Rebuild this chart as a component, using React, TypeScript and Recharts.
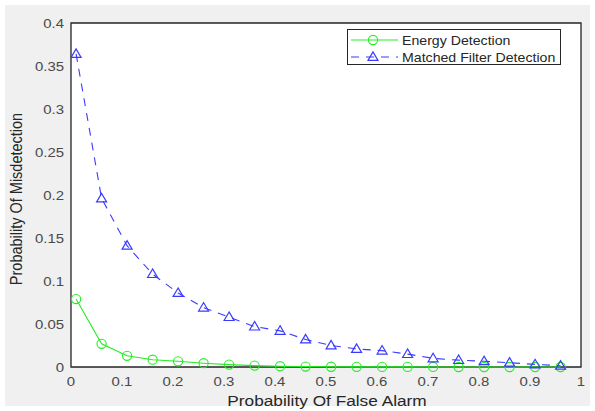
import React from "react";
import {
  LineChart,
  Line,
  XAxis,
  YAxis,
  CartesianGrid,
  ReferenceArea,
} from "recharts";

// Probability of false alarm (x) sampled at 20 points
const falseAlarm = [
  0.01, 0.06, 0.11, 0.16, 0.21, 0.26, 0.31, 0.36, 0.41, 0.46,
  0.51, 0.56, 0.61, 0.66, 0.71, 0.76, 0.81, 0.86, 0.91, 0.96,
];

// Probability of misdetection for each detector
const energyDetection = [
  0.079, 0.027, 0.013, 0.0085, 0.0066, 0.0044, 0.0028, 0.0016, 0.0009, 0.0005,
  0.0003, 0.0002, 0.0001, 0.0001, 0.00005, 0, 0, 0, 0, 0,
];
const matchedFilter = [
  0.364, 0.196, 0.141, 0.108, 0.086, 0.069, 0.058, 0.047, 0.042, 0.032,
  0.025, 0.021, 0.019, 0.015, 0.01, 0.008, 0.0066, 0.005, 0.003, 0.0015,
];

const xTicks = [0, 0.1, 0.2, 0.3, 0.4, 0.5, 0.6, 0.7, 0.8, 0.9, 1];
const yTicks = [0, 0.05, 0.1, 0.15, 0.2, 0.25, 0.3, 0.35, 0.4];

const seriesNames = ["Energy Detection", "Matched Filter Detection"];
const xTitle = "Probability Of False Alarm";
const yTitle = "Probability Of Misdetection";

const data = falseAlarm.map((pfa, i) => ({
  pfa,
  energy: energyDetection[i],
  matched: matchedFilter[i],
}));

const GREEN = "#22ee22";
const BLUE = "#3a3aff";
const FONT = "'Liberation Sans', Arial, sans-serif";
const TICK_COLOR = "#4a4a4a";
const TEXT_COLOR = "#262626";
// the figure's text is set slightly wide horizontally
const STRETCH = 1.15;

const fmt = (v: number) => String(Math.round(v * 100) / 100);

const CircleDot = (props: any) => {
  const { cx, cy } = props;
  if (cx == null || cy == null) return null;
  return <circle cx={cx} cy={cy} r={4.6} fill="none" stroke={GREEN} strokeWidth={1.1} />;
};

const TriangleDot = (props: any) => {
  const { cx, cy } = props;
  if (cx == null || cy == null) return null;
  const h = 8.5;
  const w = 10;
  const pts = `${cx},${cy - h * 0.6} ${cx - w / 2},${cy + h * 0.4} ${cx + w / 2},${cy + h * 0.4}`;
  return <polygon points={pts} fill="none" stroke={BLUE} strokeWidth={1.2} />;
};

const XTick = (props: any) => {
  const { x, y, payload } = props;
  return (
    <text
      transform={`translate(${x},${y}) scale(${STRETCH},1)`}
      textAnchor="middle"
      dy="0.71em"
      fontFamily={FONT}
      fontSize={13}
      fill={TICK_COLOR}
    >
      {fmt(payload.value)}
    </text>
  );
};

const YTick = (props: any) => {
  const { x, y, payload } = props;
  return (
    <text
      transform={`translate(${x},${y}) scale(${STRETCH},1)`}
      textAnchor="end"
      dy="0.355em"
      fontFamily={FONT}
      fontSize={13}
      fill={TICK_COLOR}
    >
      {fmt(payload.value)}
    </text>
  );
};

const LegendBox = () => (
  <svg width={215} height={37} style={{ display: "block" }}>
    <rect x={0.5} y={0.5} width={213} height={35} fill="#ffffff" stroke={TEXT_COLOR} strokeWidth={1} />
    <line x1={4} y1={11} x2={51} y2={11} stroke={GREEN} strokeWidth={1.1} />
    <circle cx={26} cy={11} r={4.6} fill="none" stroke={GREEN} strokeWidth={1.1} />
    <text
      transform={`translate(55,15.5) scale(${STRETCH},1)`}
      fontFamily={FONT}
      fontSize={12.3}
      fill={TEXT_COLOR}
    >
      {seriesNames[0]}
    </text>
    <line x1={4} y1={28} x2={51} y2={28} stroke={BLUE} strokeWidth={1.1} strokeDasharray="8 7" />
    <polygon points="26,22.9 21,31.4 31,31.4" fill="none" stroke={BLUE} strokeWidth={1.2} />
    <text
      transform={`translate(55,32.5) scale(${STRETCH},1)`}
      fontFamily={FONT}
      fontSize={12.3}
      fill={TEXT_COLOR}
    >
      {seriesNames[1]}
    </text>
  </svg>
);

export default function App() {
  return (
    <div
      style={{
        position: "absolute",
        left: 0,
        top: 0,
        width: 595,
        height: 411,
        background: "#ffffff",
      }}
    >
      <div
        style={{
          position: "absolute",
          left: 5,
          top: 5,
          width: 585,
          height: 401,
          background: "#f0f0f0",
        }}
      />
      <div style={{ position: "absolute", left: 0, top: 0 }}>
        <LineChart
          width={595}
          height={411}
          data={data}
          margin={{ top: 23, right: 14, left: 11, bottom: 0 }}
        >
          <ReferenceArea
            x1={0}
            x2={1}
            y1={0}
            y2={0.4}
            fill="#ffffff"
            fillOpacity={1}
            stroke="none"
            ifOverflow="visible"
          />
          <CartesianGrid stroke="#dedede" strokeWidth={1} />
          <XAxis
            dataKey="pfa"
            type="number"
            domain={[0, 1]}
            ticks={xTicks}
            height={44}
            tickLine={false}
            tickSize={0}
            tickMargin={10}
            axisLine={false}
            tick={<XTick />}
            label={() => (
              <text
                transform={`translate(327,406) scale(${STRETCH},1)`}
                textAnchor="middle"
                fontFamily={FONT}
                fontSize={15}
                fill={TEXT_COLOR}
              >
                {xTitle}
              </text>
            )}
          />
          <YAxis
            type="number"
            domain={[0, 0.4]}
            ticks={yTicks}
            width={60}
            tickLine={false}
            tickSize={0}
            tickMargin={7}
            axisLine={false}
            tick={<YTick />}
            label={() => (
              <text
                transform={`translate(22,199) rotate(-90) scale(1,${STRETCH})`}
                textAnchor="middle"
                fontFamily={FONT}
                fontSize={14.5}
                fill={TEXT_COLOR}
              >
                {yTitle}
              </text>
            )}
          />
          <ReferenceArea
            x1={0}
            x2={1}
            y1={0}
            y2={0.4}
            fill="none"
            stroke={TEXT_COLOR}
            strokeWidth={1.3}
            ifOverflow="visible"
          />
          <Line
            type="linear"
            dataKey="energy"
            name={seriesNames[0]}
            stroke={GREEN}
            strokeWidth={1.1}
            dot={<CircleDot />}
            activeDot={false}
            isAnimationActive={false}
          />
          <Line
            type="linear"
            dataKey="matched"
            name={seriesNames[1]}
            stroke={BLUE}
            strokeWidth={1.1}
            strokeDasharray="8 7"
            dot={<TriangleDot />}
            activeDot={false}
            isAnimationActive={false}
          />
        </LineChart>
      </div>
      <div style={{ position: "absolute", left: 347, top: 29 }}>
        <LegendBox />
      </div>
    </div>
  );
}
